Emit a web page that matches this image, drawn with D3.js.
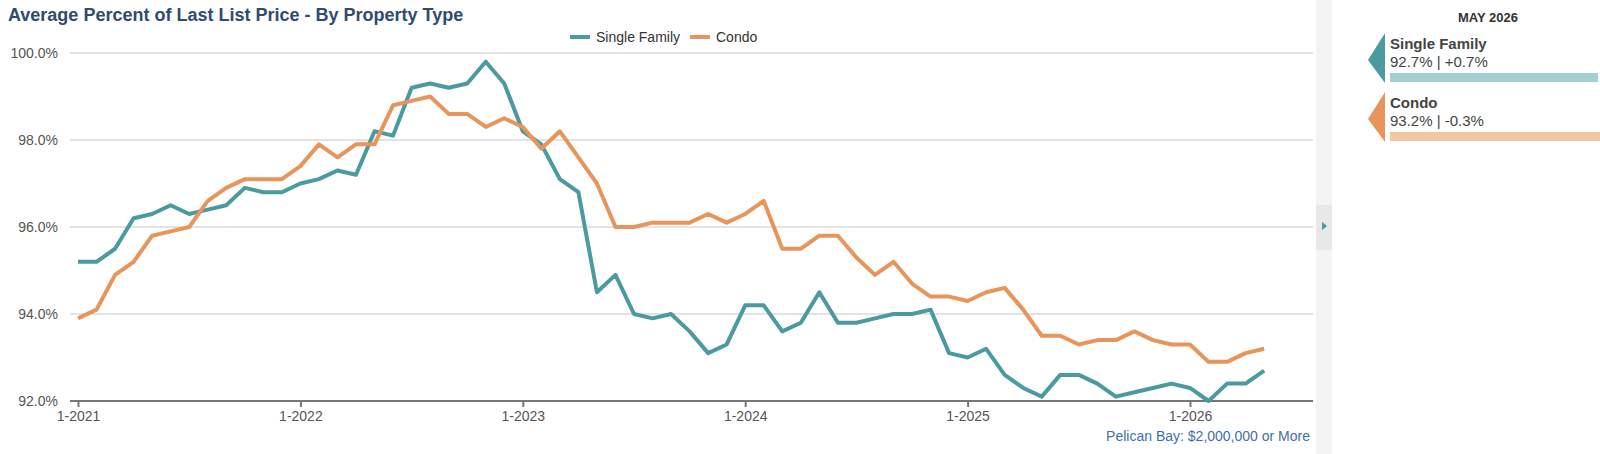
<!DOCTYPE html>
<html><head><meta charset="utf-8">
<script src="https://cdn.jsdelivr.net/npm/d3@7"></script>
<style>body{margin:0;background:#fff;font-family:Arial,"Liberation Sans",sans-serif}</style>
</head><body><svg id="c" width="1600" height="454"></svg>
<script>
const startYear = 2021;
const yTicks = [92, 94, 96, 98, 100];
const xTickLabels = ["1-2021","1-2022","1-2023","1-2024","1-2025","1-2026"];
const singleFamily = [95.2,95.2,95.5,96.2,96.3,96.5,96.3,96.4,96.5,96.9,96.8,96.8,
 97.0,97.1,97.3,97.2,98.2,98.1,99.2,99.3,99.2,99.3,99.8,99.3,
 98.2,97.9,97.1,96.8,94.5,94.9,94.0,93.9,94.0,93.6,93.1,93.3,
 94.2,94.2,93.6,93.8,94.5,93.8,93.8,93.9,94.0,94.0,94.1,93.1,
 93.0,93.2,92.6,92.3,92.1,92.6,92.6,92.4,92.1,92.2,92.3,92.4,
 92.3,92.0,92.4,92.4,92.7];
const condo = [93.9,94.1,94.9,95.2,95.8,95.9,96.0,96.6,96.9,97.1,97.1,97.1,
 97.4,97.9,97.6,97.9,97.9,98.8,98.9,99.0,98.6,98.6,98.3,98.5,
 98.3,97.8,98.2,97.6,97.0,96.0,96.0,96.1,96.1,96.1,96.3,96.1,
 96.3,96.6,95.5,95.5,95.8,95.8,95.3,94.9,95.2,94.7,94.4,94.4,
 94.3,94.5,94.6,94.1,93.5,93.5,93.3,93.4,93.4,93.6,93.4,93.3,
 93.3,92.9,92.9,93.1,93.2];
const seriesNames = ["Single Family","Condo"];
const colors = ["#4a9aa0","#e8945a"];
const lightColors = ["#a3cfd1","#f3c6a6"];
const summary = ["92.7% | +0.7%","93.2% | -0.3%"];

const svg = d3.select("#c");
const x = d3.scaleLinear().domain([0, 60]).range([78, 1190]);
const y = d3.scaleLinear().domain([92, 100]).range([401, 53]);

svg.append("text").attr("x",8).attr("y",21).attr("font-size",18).attr("font-weight","bold")
 .attr("fill","#2f4b6e").text("Average Percent of Last List Price - By Property Type");

svg.append("g").selectAll("line").data(yTicks.slice(1)).join("line")
 .attr("x1",70).attr("x2",1313).attr("y1",d=>y(d)).attr("y2",d=>y(d))
 .attr("stroke","#c8c8c8").attr("stroke-width",1.2);
const yAx = svg.append("g").attr("transform","translate(70,0)")
 .call(d3.axisLeft(y).tickValues(yTicks).tickFormat(d=>d.toFixed(1)+"%").tickSize(0).tickPadding(12));
yAx.select(".domain").remove();
yAx.selectAll("text").attr("font-size",14).attr("fill","#555").attr("font-family","Arial,Liberation Sans,sans-serif");

const xAx = svg.append("g").attr("transform","translate(0,401)")
 .call(d3.axisBottom(x).tickValues([0,12,24,36,48,60]).tickFormat((d,i)=>xTickLabels[i]).tickSize(6).tickPadding(4).tickSizeOuter(0));
xAx.select(".domain").attr("d","M70,0H1313").attr("stroke","#777").attr("stroke-width",2);
xAx.selectAll(".tick line").attr("stroke","#777").attr("stroke-width",2);
xAx.selectAll("text").attr("font-size",14).attr("fill","#555").attr("font-family","Arial,Liberation Sans,sans-serif");

const line = d3.line().x((d,i)=>x(i)).y(d=>y(d));
[singleFamily, condo].forEach((s,k)=>{
  svg.append("path").datum(s).attr("d",line).attr("fill","none")
   .attr("stroke",colors[k]).attr("stroke-width",4).attr("stroke-linejoin","round");
});

const lg = svg.append("g");
const lx=[570,690];
seriesNames.forEach((n,k)=>{
  lg.append("line").attr("x1",lx[k]).attr("x2",lx[k]+20).attr("y1",37).attr("y2",37).attr("stroke",colors[k]).attr("stroke-width",4);
  lg.append("text").attr("x",lx[k]+26).attr("y",42).attr("font-size",14).attr("fill","#333").text(n);
});

svg.append("text").attr("x",1310).attr("y",441).attr("text-anchor","end").attr("font-size",14)
 .attr("fill","#3f6fa8").text("Pelican Bay: $2,000,000 or More");

svg.append("rect").attr("x",1316).attr("y",0).attr("width",16).attr("height",454).attr("fill","#f4f4f4");
svg.append("rect").attr("x",1316).attr("y",205).attr("width",16).attr("height",45).attr("fill","#e8e8e8");
svg.append("path").attr("d","M1322,222l5,4l-5,4z").attr("fill","#4a9aa0");
svg.append("text").attr("x",1488).attr("y",22).attr("text-anchor","middle").attr("font-size",13)
 .attr("font-weight","bold").attr("fill","#333").text("MAY 2026");
seriesNames.forEach((n,k)=>{
  const t=33+k*59;
  svg.append("path").attr("d",`M1385,${t}L1368,${t+27}L1385,${t+50}Z`).attr("fill",colors[k]);
  svg.append("text").attr("x",1390).attr("y",t+16).attr("font-size",15).attr("font-weight","bold").attr("fill","#444").text(n);
  svg.append("text").attr("x",1390).attr("y",t+34).attr("font-size",15).attr("fill","#444").text(summary[k]);
  svg.append("rect").attr("x",1390).attr("y",t+40).attr("width",k?210:208).attr("height",9).attr("fill",lightColors[k]);
});
</script></body></html>
